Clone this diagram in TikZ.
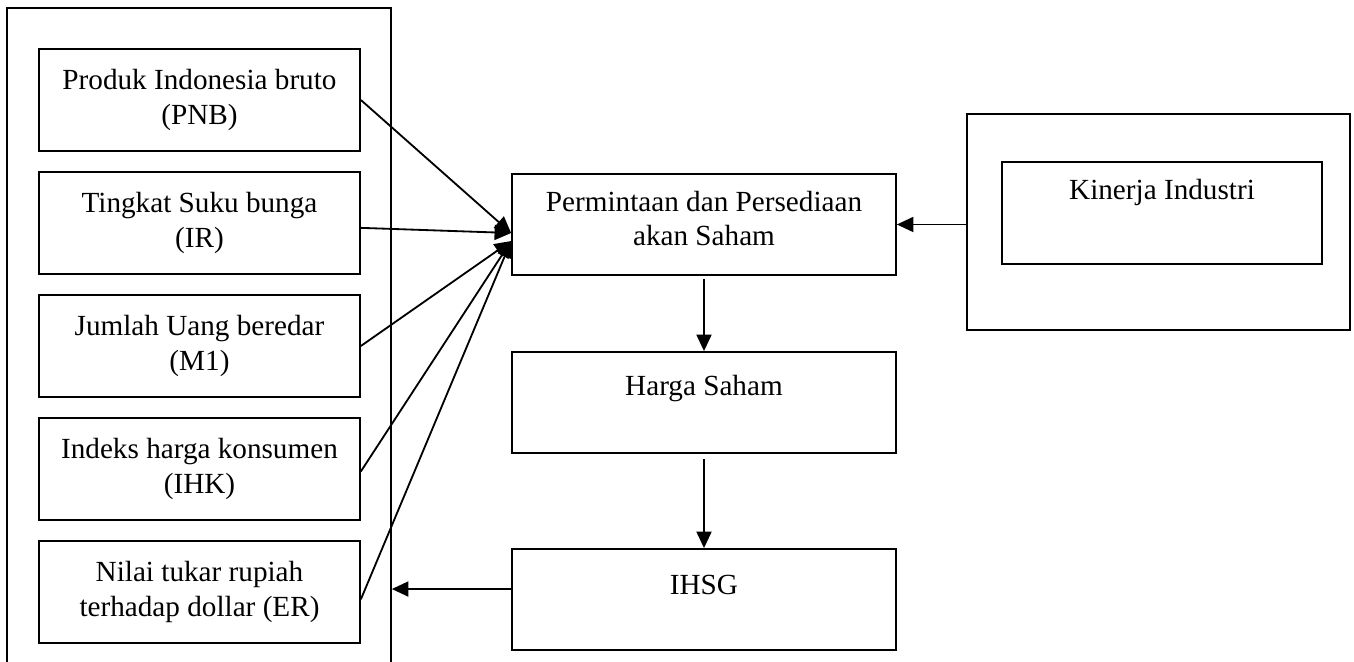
\documentclass[tikz,border=0pt]{standalone}
\usepackage{fontspec}
\setmainfont{Liberation Serif}
\usetikzlibrary{arrows.meta,positioning}

\begin{document}
\begin{tikzpicture}[x=0.411pt, y=-0.411pt,
	cell/.style={draw, line width=0.75pt, inner sep=0pt, align=center, font=\fontsize{12pt}{14pt}\selectfont},
	leftcell/.style={cell, minimum width=131.9pt, minimum height=41.9pt},
	midcell/.style={cell, minimum width=157.8pt, minimum height=41.5pt},
	txt/.style={inner sep=0pt, align=center, font=\fontsize{12pt}{13.8pt}\selectfont},
	arr/.style={-{Triangle[length=6.8pt,width=6.2pt]}, line width=0.75pt}]
	\useasboundingbox (0,0) rectangle (1354,662);
	% outer frames
	\node[cell, minimum width=157.8pt, minimum height=292.6pt] (macro) at (199,364) {};
	\node[cell, minimum width=157.4pt, minimum height=88.8pt] (industri) at (1158.5,222) {};
	% macro variables
	\node[leftcell] (pnb) at (199.5,100) {Produk Indonesia bruto\\(PNB)};
	\node[leftcell] (ir) at (199.5,223) {Tingkat Suku bunga\\(IR)};
	\node[leftcell] (m1) at (199.5,346) {Jumlah Uang beredar\\(M1)};
	\node[leftcell] (ihk) at (199.5,469) {Indeks harga konsumen\\(IHK)};
	\node[leftcell] (er) at (199.5,592) {Nilai tukar rupiah\\terhadap dollar (ER)};
	% main chain
	\node[midcell] (perm) at (704,224.5) {};
	\node[txt, below=7.4pt of perm.north] (permtxt) {Permintaan dan Persediaan\\akan Saham};
	\node[midcell] (harga) at (704,402.5) {};
	\node[txt, below=9.9pt of harga.north] (hargatxt) {Harga Saham};
	\node[midcell] (ihsg) at (704,599.5) {};
	\node[txt, below=11pt of ihsg.north] (ihsgtxt) {IHSG};
	\node[leftcell, minimum width=131.5pt] (kinerja) at (1162,213) {};
	\node[txt, below=7.4pt of kinerja.north] (kinerjatxt) {Kinerja Industri};
	% arrows
	\draw[arr] (pnb.east) -- ([yshift=-3.5pt]perm.west);
	\draw[arr] ([yshift=-2pt]ir.east) -- ([yshift=-3.5pt]perm.west);
	\draw[arr] (m1.east) -- ([yshift=-6.8pt]perm.west);
	\draw[arr] ([yshift=-1pt]ihk.east) -- ([yshift=-6.8pt]perm.west);
	\draw[arr] ([yshift=-3pt]er.east) -- ([yshift=-6.8pt]perm.west);
	\draw[arr] (industri.west |- perm.east) -- (perm.east);
	\draw[arr, shorten <=1.2pt] (perm.south) -- (harga.north);
	\draw[arr, shorten <=2pt] (harga.south) -- (ihsg.north);
	\draw[arr] ([yshift=4.3pt]ihsg.west) -- ([yshift=4.3pt]ihsg.west -| macro.east);
\end{tikzpicture}
\end{document}
